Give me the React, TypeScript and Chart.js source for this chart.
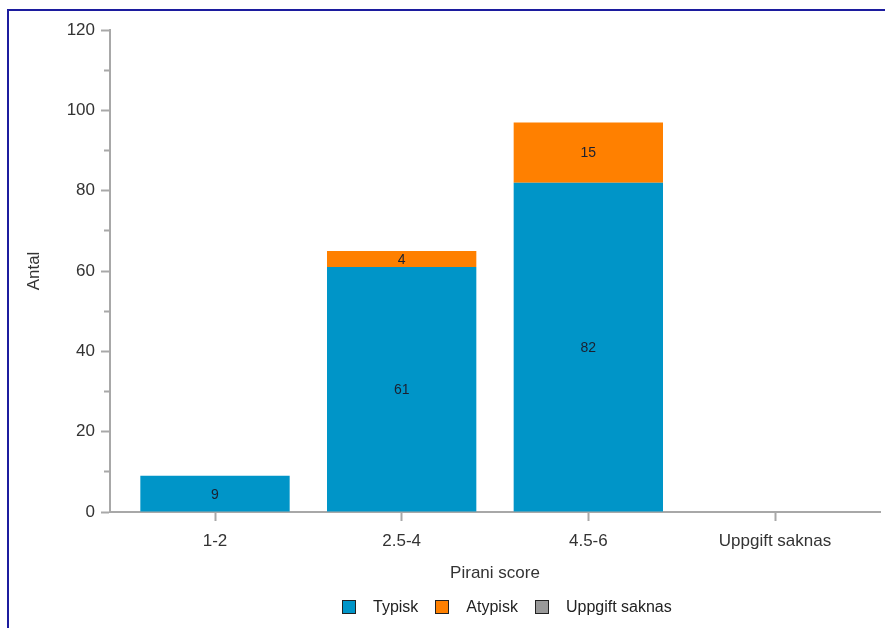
import React, { useEffect, useRef } from "react";
import { Chart, registerables } from "chart.js";

Chart.register(...registerables);

const categories = ["1-2", "2.5-4", "4.5-6", "Uppgift saknas"];
const typisk = [9, 61, 82, 0];
const atypisk = [0, 4, 15, 0];
const saknas = [0, 0, 0, 0];
const seriesNames = ["Typisk", "Atypisk", "Uppgift saknas"];
const seriesColors = ["#0095c8", "#ff8000", "#999999"];

const FONT = "'Liberation Sans', Arial, Helvetica, sans-serif";
const AXIS = "#a8a8a8";
const TEXT = "#333333";

const valueLabels = {
  id: "valueLabels",
  afterDatasetsDraw(chart: any) {
    const ctx = chart.ctx;
    ctx.save();
    ctx.font = `14px ${FONT}`;
    ctx.fillStyle = "#1a2030";
    ctx.textAlign = "center";
    ctx.textBaseline = "middle";
    chart.data.datasets.forEach((ds: any, di: number) => {
      const meta = chart.getDatasetMeta(di);
      meta.data.forEach((el: any, i: number) => {
        const v = ds.data[i].y;
        if (!v) return;
        const p = el.getProps(["x", "y", "base"], true);
        ctx.fillText(String(v), p.x, (p.y + p.base) / 2 + 1);
      });
    });
    ctx.restore();
  },
};

export default function App() {
  const ref = useRef<HTMLCanvasElement>(null);
  useEffect(() => {
    if (!ref.current) return;
    const series = [typisk, atypisk, saknas];
    const chart = new Chart(ref.current, {
      type: "bar",
      data: {
        datasets: series.map((vals, si) => ({
          label: seriesNames[si],
          data: categories.map((_, i) => ({ x: i, y: vals[i] })),
          backgroundColor: seriesColors[si],
          borderWidth: 0,
          barPercentage: 1,
          categoryPercentage: 0.8,
        })),
      },
      options: {
        responsive: false,
        animation: false,
        layout: { padding: { top: 30, right: 5, left: 0, bottom: 36 } },
        plugins: { legend: { display: false }, tooltip: { enabled: false } },
        scales: {
          x: {
            type: "linear",
            min: -0.5625,
            max: 3.5625,
            stacked: true,
            offset: false,
            afterBuildTicks: (s: any) => {
              s.ticks = categories.map((_, i) => ({ value: i }));
            },
            afterFit: (s: any) => {
              s.height = 80;
            },
            ticks: {
              callback: (v: any) => categories[v] ?? "",
              font: { family: FONT, size: 17 },
              color: TEXT,
              padding: 10,
              autoSkip: false,
              maxRotation: 0,
            },
            grid: {
              offset: false,
              drawOnChartArea: false,
              drawTicks: true,
              tickLength: 9,
              tickColor: AXIS,
              tickWidth: 2,
            },
            border: { color: AXIS, width: 2 },
            title: {
              display: true,
              text: "Pirani score",
              font: { family: FONT, size: 17 },
              color: TEXT,
              padding: { top: 0, bottom: 8 },
            },
          },
          y: {
            min: 0,
            max: 120,
            stacked: true,
            afterFit: (s: any) => {
              s.width = 110;
            },
            ticks: {
              stepSize: 10,
              callback: (v: any) => (v % 20 === 0 ? String(v) : ""),
              font: { family: FONT, size: 17 },
              color: TEXT,
              padding: 6,
            },
            grid: {
              drawOnChartArea: false,
              drawTicks: true,
              tickLength: 9,
              tickColor: AXIS,
              tickWidth: 2,
              tickBorderDash: (ctx: any) =>
                ctx.tick && ctx.tick.value % 20 !== 0 ? [0, 3, 10, 100] : [],
            },
            border: { color: AXIS, width: 2 },
            title: {
              display: true,
              text: "Antal",
              font: { family: FONT, size: 17 },
              color: TEXT,
              padding: { top: 24, bottom: 0 },
            },
          },
        },
      } as any,
      plugins: [valueLabels],
    });
    return () => chart.destroy();
  }, []);

  return (
    <div style={{ position: "fixed", left: 0, top: 0, width: 885, height: 628, background: "#fff", overflow: "hidden" }}>
      <div
        style={{
          position: "absolute",
          left: 7,
          top: 9,
          width: 1000,
          height: 1000,
          borderLeft: "2px solid #1c1c9e",
          borderTop: "2px solid #1c1c9e",
        }}
      />
      <canvas ref={ref} width={885} height={628} style={{ position: "absolute", left: 0, top: 0, display: "block" }} />
      <div
        style={{
          position: "absolute",
          left: 342,
          top: 599,
          height: 16,
          display: "flex",
          alignItems: "center",
          fontFamily: FONT,
          fontSize: 16,
          color: "#222",
        }}
      >
        {seriesNames.map((n, i) => (
          <div key={n} style={{ display: "flex", alignItems: "center", marginRight: 17 }}>
            <span
              style={{
                width: 14,
                height: 14,
                boxSizing: "border-box",
                border: "1.5px solid #222",
                background: seriesColors[i],
                display: "inline-block",
                marginRight: 17,
              }}
            />
            <span>{n}</span>
          </div>
        ))}
      </div>
    </div>
  );
}
